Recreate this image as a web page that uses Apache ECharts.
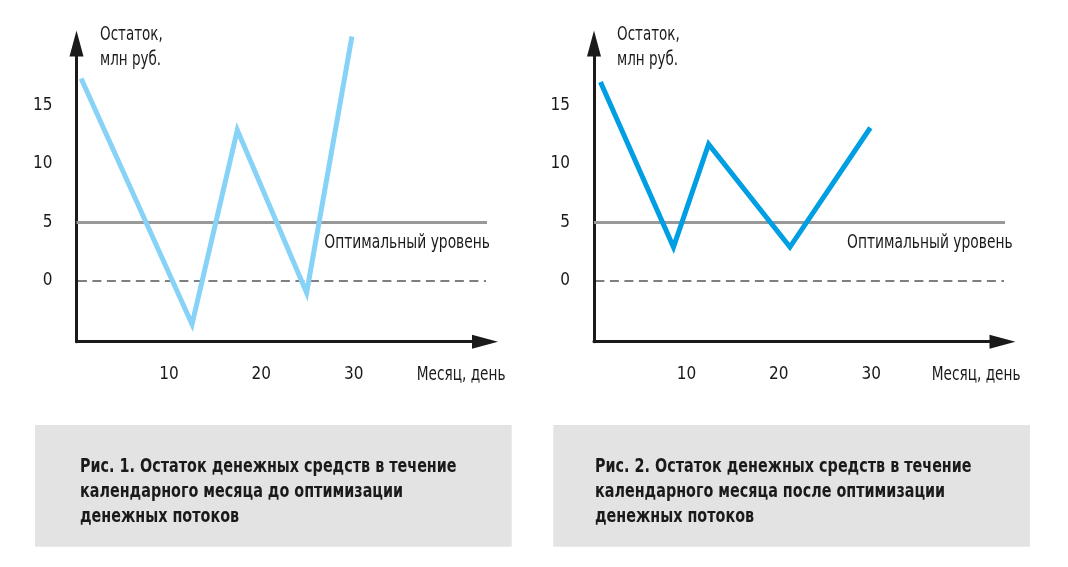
<!DOCTYPE html>
<html>
<head>
<meta charset="utf-8">
<script src="https://cdn.jsdelivr.net/npm/echarts@6/dist/echarts.min.js"></script>
<style>
html,body{margin:0;padding:0;background:#fff;}
#c{width:1068px;height:567px;}
</style>
</head>
<body>
<div id="c"></div>
<script>
// ---- data ----
const days1 = [0.5, 12.5, 17.4, 24.9, 29.8];
const balance1 = [17.3, -3.7, 12.9, -1.0, 20.9];
const days2 = [0.7, 8.6, 12.4, 21.2, 29.9];
const balance2 = [17.0, 2.9, 11.7, 2.9, 13.1];
const optimalLevel = 5;
const levelSpan = [0, 44.9];
const xTicks = [10, 20, 30];
const yTicks = [0, 5, 10, 15];
const yAxisTitle = 'Остаток,\nмлн руб.';
const xAxisTitle = 'Месяц, день';
const levelLabel = 'Оптимальный уровень';
const captions = [
  'Рис. 1. Остаток денежных средств в течение\nкалендарного месяца до оптимизации\nденежных потоков',
  'Рис. 2. Остаток денежных средств в течение\nкалендарного месяца после оптимизации\nденежных потоков'
];

const FONT = "'DejaVu Sans Condensed', 'DejaVu Sans', sans-serif";
const INK = '#1a1a1a';

function zip(xs, ys){ return xs.map((x,i)=>[x, ys[i]]); }

const panels = [
  {left: 76.5, color: '#87d3f7', data: zip(days1, balance1)},
  {left: 594, color: '#009ee2', data: zip(days2, balance2)}
];

const grids = [], xAxes = [], yAxes = [], series = [], graphics = [];
panels.forEach((p, i) => {
  grids.push({left: p.left, top: 43.5, width: 408.5, height: 298.2, containLabel: false});
  xAxes.push({
    gridIndex: i, type: 'value', min: 0, max: 44.2,
    axisLine: {show: true, onZero: false, symbol: ['none', 'triangle'], symbolSize: [14, 26],
      lineStyle: {color: INK, width: 3}},
    axisTick: {show: false}, splitLine: {show: false},
    axisLabel: {customValues: xTicks, margin: 24, fontSize: 17, color: INK, fontFamily: FONT}
  });
  yAxes.push({
    gridIndex: i, type: 'value', min: -5.19, max: 20.3,
    axisLine: {show: true, onZero: false, symbol: ['none', 'triangle'], symbolSize: [14, 26],
      lineStyle: {color: INK, width: 3}},
    axisTick: {show: false}, splitLine: {show: false},
    axisLabel: {customValues: yTicks, margin: 24, fontSize: 17, color: INK, fontFamily: FONT}
  });
  series.push({
    type: 'line', xAxisIndex: i, yAxisIndex: i, clip: false, symbol: 'none', silent: true, z: 2,
    data: levelSpan.map(x => [x, optimalLevel]),
    lineStyle: {color: '#999999', width: 3}
  });
  series.push({
    type: 'line', xAxisIndex: i, yAxisIndex: i, clip: false, symbol: 'none', silent: true, z: 2,
    data: levelSpan.map(x => [x + 0.15, 0]),
    lineStyle: {color: '#000000', width: 1.2, type: [9, 5.5]}
  });
  series.push({
    type: 'line', xAxisIndex: i, yAxisIndex: i, clip: false, symbol: 'none', silent: true, z: 3,
    data: p.data,
    lineStyle: {color: p.color, width: 5, join: 'miter', miterLimit: 10, cap: 'butt'}
  });
});

[0, 1].forEach(i => {
  graphics.push({type: 'text', x: i === 0 ? 100 : 617, y: 22.5, scaleX: 0.79, z: 10,
    style: {text: yAxisTitle, fontSize: 19, lineHeight: 25, fill: INK, fontFamily: FONT, verticalAlign: 'top'}});
  graphics.push({type: 'text', x: i === 0 ? 490 : 1012.7, y: 243.5, scaleX: 0.81, z: 10,
    style: {text: levelLabel, fontSize: 19, fill: INK, fontFamily: FONT, align: 'right', verticalAlign: 'middle'}});
  graphics.push({type: 'text', x: i === 0 ? 416.7 : 931.7, y: 375, scaleX: 0.8, z: 10,
    style: {text: xAxisTitle, fontSize: 19, fill: INK, fontFamily: FONT, align: 'left', verticalAlign: 'middle'}});
});
[[35, 476.7], [553.3, 476.7]].forEach((b, i) => {
  graphics.push({type: 'rect', shape: {x: b[0], y: 425, width: b[1], height: 121.7}, z: 0,
    style: {fill: '#e3e3e3'}});
  graphics.push({type: 'text', x: i === 0 ? 80 : 595, y: 454, scaleX: 0.84, z: 10,
    style: {text: captions[i], fontSize: 19, fontWeight: 'bold', lineHeight: 25.3, fill: INK,
      fontFamily: FONT, verticalAlign: 'top'}});
});

const chart = echarts.init(document.getElementById('c'), null, {renderer: 'canvas'});
chart.setOption({
  animation: false,
  backgroundColor: '#ffffff',
  grid: grids, xAxis: xAxes, yAxis: yAxes, series: series, graphic: graphics
});
</script>
</body>
</html>
